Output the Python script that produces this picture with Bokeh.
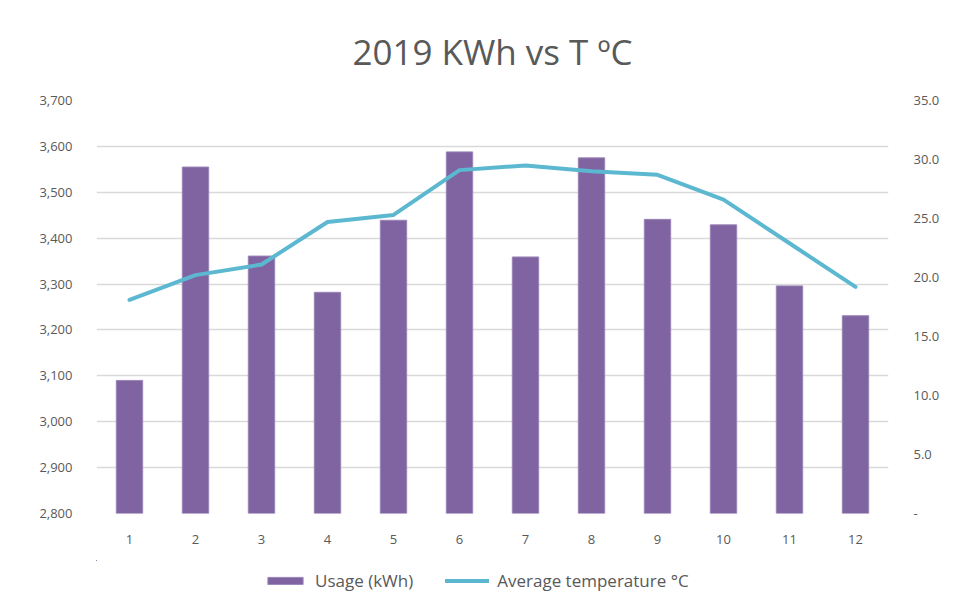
from bokeh.plotting import figure
from bokeh.layouts import column
from bokeh.models import (Range1d, LinearAxis, NumeralTickFormatter, FixedTicker,
                          Legend, LegendItem)
from bokeh.embed import file_html
from bokeh.resources import INLINE

months = [1, 2, 3, 4, 5, 6, 7, 8, 9, 10, 11, 12]
month_labels = ["1", "2", "3", "4", "5", "6", "7", "8", "9", "10", "11", "12"]
usage_kwh = [3090, 3555, 3361, 3282, 3439, 3588, 3359, 3575, 3441, 3429, 3296, 3231]
avg_temp_c = [18.1, 20.2, 21.1, 24.7, 25.3, 29.1, 29.5, 29.0, 28.7, 26.6, 22.9, 19.2]
left_ticks = [2800, 2900, 3000, 3100, 3200, 3300, 3400, 3500, 3600, 3700]
right_ticks = [0, 5, 10, 15, 20, 25, 30, 35]
series_names = ["Usage (kWh)", "Average temperature °C"]

FONT = "Open Sans"
TXT = "#595959"
GRID = "#d9d9d9"
BAR = "#8064A2"
BAR_EDGE = "#9a85b8"
LINE = "#5BB8D0"

p = figure(frame_width=792, frame_height=413, output_backend="svg", toolbar_location=None,
           x_range=Range1d(0.5, 12.5), y_range=Range1d(2800, 3700),
           min_border_left=96, min_border_right=62, min_border_top=100,
           min_border_bottom=47)
p.outline_line_color = None
p.extra_y_ranges = {"temp": Range1d(0, 35)}

bars = p.vbar(x=months, top=usage_kwh, bottom=2800, width=0.4,
              fill_color=BAR, line_color=BAR_EDGE, line_width=1)
line = p.line(x=months, y=avg_temp_c, y_range_name="temp",
              line_color=LINE, line_width=4, line_join="round", line_cap="round")

# axes
xa = p.xaxis[0]
xa.ticker = FixedTicker(ticks=months)
xa.major_label_overrides = {m: l for m, l in zip(months, month_labels)}
ya = p.yaxis[0]
ya.ticker = FixedTicker(ticks=left_ticks)
ya.formatter = NumeralTickFormatter(format="0,0")

ra = LinearAxis(y_range_name="temp", ticker=FixedTicker(ticks=right_ticks),
                formatter=NumeralTickFormatter(format="0.0"),
                major_label_overrides={0: "-"})
p.add_layout(ra, "right")

for ax in [xa, ya, ra]:
    ax.axis_line_color = None
    ax.major_tick_line_color = None
    ax.minor_tick_line_color = None
    ax.major_tick_in = 0
    ax.major_tick_out = 0
    ax.axis_label_standoff = 0
    ax.major_label_text_font = FONT
    ax.major_label_text_font_size = "13px"
    ax.major_label_text_color = TXT
xa.major_label_standoff = 21
ya.major_label_standoff = 24
ra.major_label_standoff = 25

p.xgrid.grid_line_color = None
p.ygrid.grid_line_color = GRID
p.ygrid.grid_line_width = 1.5
p.ygrid.ticker = FixedTicker(ticks=left_ticks)

# title
p.title.text = "2019 KWh vs T ºC"
p.title.align = "center"
p.title.text_font = FONT
p.title.text_font_size = "35px"
p.title.text_font_style = "normal"
p.title.text_color = TXT
p.title.standoff = 51

# legend strip below the chart (same series, drawn outside this strip's visible ranges)
lg = figure(width=950, height=52, output_backend="svg", toolbar_location=None,
            x_range=Range1d(100, 101), y_range=Range1d(100, 101),
            min_border_left=0, min_border_right=0, min_border_top=0,
            min_border_bottom=0)
lg.extra_y_ranges = {"temp": Range1d(100, 101)}
lg.axis.visible = False
lg.grid.visible = False
lg.outline_line_color = None
lb = lg.vbar(x=months, top=usage_kwh, bottom=2800, width=0.4,
             fill_color=BAR, line_color=BAR_EDGE, line_width=1)
ll = lg.line(x=months, y=avg_temp_c, y_range_name="temp",
             line_color=LINE, line_width=4, line_cap="round")
legend = Legend(items=[LegendItem(label=series_names[0], renderers=[lb]),
                       LegendItem(label=series_names[1], renderers=[ll])],
                orientation="horizontal", border_line_color=None,
                background_fill_alpha=0, label_text_font=FONT,
                label_text_font_size="17px", label_text_color=TXT,
                glyph_width=44, glyph_height=9, spacing=32, label_standoff=8,
                location=(167, 20), margin=0, padding=0)
lg.add_layout(legend)

open("out.html", "w").write(file_html(column(p, lg, spacing=0), INLINE))
